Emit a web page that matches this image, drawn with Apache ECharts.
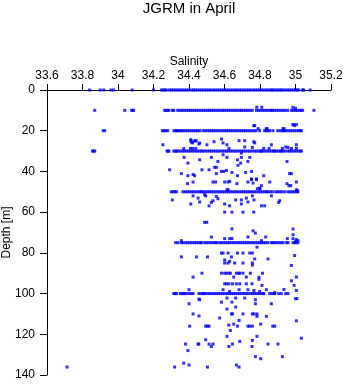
<!DOCTYPE html>
<html>
<head>
<meta charset="utf-8">
<script src="https://cdn.jsdelivr.net/npm/echarts@6/dist/echarts.min.js"></script>
<style>html,body{margin:0;padding:0;background:#fff;}#c{width:346px;height:384px;}</style>
</head>
<body>
<div id="c"></div>
<script>
// Dense sampling rows: salinity values observed at a given depth
const row0Depth = 0;
const row0 = [33.84,33.90,33.92,33.96,33.975,34.08,34.20,34.245,34.255,34.265,34.272,
  34.29,34.302,34.314,34.326,34.338,34.35,34.362,34.374,34.386,34.398,34.415,34.425,
  34.435,34.447,34.46,34.472,34.485,34.497,34.51,34.522,34.535,34.547,34.56,34.572,34.585,34.597,
  34.61,34.622,34.635,34.647,34.66,34.672,34.685,34.697,34.71,34.722,34.735,34.747,34.76,34.772,
  34.785,34.797,34.81,34.822,34.835,34.847,34.86,34.868,34.877,34.889,34.9,34.912,34.92,
  34.93,34.942,34.955,34.967,34.978,34.99,35.0,35.012,35.018,35.04,35.046,35.082];

const row10Depth = 10;
const row10 = [33.869,34.038,34.077,34.083,34.088,34.263,34.27,34.28,34.287,34.306,34.314,
  34.336,34.348,34.36,34.372,34.384,34.396,34.408,34.42,34.432,34.444,34.456,34.468,34.48,34.492,
  34.504,34.516,34.528,34.54,34.552,34.564,34.576,34.588,34.6,34.612,34.624,34.636,34.648,34.66,
  34.672,34.684,34.696,34.708,34.72,34.732,34.744,34.756,34.78,34.792,34.804,34.816,34.828,34.84,
  34.852,34.864,34.87,34.882,34.894,34.906,34.918,34.93,34.942,34.956,34.977,34.988,35.0,35.01,
  35.023,35.032,35.04,35.104];

const row20Depth = 20;
const row20 = [33.916,33.925,34.25,34.26,34.27,34.28,34.315,34.325,34.33,34.338,34.347,34.357,
  34.366,34.378,34.39,34.402,34.414,34.426,34.438,34.45,34.46,34.479,34.491,34.503,34.515,34.527,
  34.539,34.551,34.563,34.575,34.587,34.599,34.611,34.623,34.635,34.647,34.659,34.671,34.683,
  34.695,34.707,34.719,34.731,34.743,34.755,34.767,34.778,34.798,34.826,34.836,34.846,34.855,
  34.873,34.9,34.915,34.926,34.936,34.945,34.958,34.97,34.982,34.994,35.006,35.018,35.026,35.033];

const row30Depth = 30;
const row30 = [33.856,33.863,33.869,34.276,34.282,34.287,34.314,34.322,34.33,
  34.338,34.35,34.362,34.374,34.386,34.398,34.41,34.422,34.434,34.446,34.458,34.47,
  34.479,34.491,34.503,34.515,34.527,34.539,34.551,34.563,34.575,34.587,34.599,34.611,34.623,
  34.635,34.647,34.659,34.671,34.683,34.695,34.707,34.719,34.731,34.743,34.755,34.767,34.779,
  34.791,34.803,34.808,34.817,34.829,34.841,34.853,34.865,34.877,34.883,34.892,34.904,34.916,
  34.92,34.93,34.942,34.957,34.967,34.979,34.991,35.003,35.015,35.027,35.033];

const row50Depth = 50;
const row50 = [34.30,34.31,34.32,34.33,34.366,34.378,34.39,34.402,34.414,34.426,34.438,34.45,
  34.462,34.47,34.479,34.491,34.503,34.515,34.527,34.539,34.551,34.563,34.575,34.587,34.599,
  34.611,34.623,34.635,34.647,34.659,34.671,34.683,34.695,34.707,34.719,34.731,34.743,34.755,
  34.767,34.779,34.791,34.803,34.815,34.827,34.836,34.845,34.857,34.87,34.888,34.9,34.912,
  34.924,34.94,34.958,34.97,34.982,34.994,35.006,35.014];

const row75Depth = 75;
const row75 = [34.325,34.338,34.357,34.366,34.381,34.393,34.405,34.417,34.429,34.441,34.453,
  34.465,34.47,34.488,34.5,34.512,34.524,34.536,34.548,34.554,34.569,34.581,34.593,34.605,
  34.617,34.629,34.641,34.653,34.665,34.677,34.689,34.701,34.713,34.725,34.737,34.749,34.761,
  34.773,34.785,34.798,34.808,34.82,34.832,34.845,34.864,34.873,34.883,34.895,34.907,34.919,
  34.93,34.949,34.958,34.986,34.996,35.006,35.014];

const row100Depth = 100;
const row100 = [34.314,34.322,34.33,34.351,34.36,34.37,34.376,34.388,34.4,34.412,34.423,
  34.456,34.468,34.48,34.483,34.494,34.506,34.518,34.53,34.542,34.554,34.566,34.578,34.59,
  34.602,34.614,34.626,34.638,34.65,34.662,34.674,34.686,34.698,34.71,34.722,34.732,34.746,
  34.758,34.77,34.782,34.794,34.806,34.818,34.821,34.855,34.867,34.879,34.883,34.905,34.92,
  34.945,34.958];

// Scattered individual samples: salinity and depth
const scatterSal = [
  34.41,34.42,34.43,34.44,34.456,34.253,34.37,34.408,34.42,34.438,
  34.414,34.438,34.46,34.41,34.501,34.541,34.583,34.592,34.614,34.682,34.714,34.765,34.77,34.714,34.757,
  34.864,34.945,35.005,35.005,34.625,34.821,34.851,34.926,34.958,34.977,
  34.765,34.77,34.835,34.84,34.93,34.935,34.985,34.99,34.995,35.005,34.782,34.81,34.79,34.985,35.0,
  34.372,34.46,34.526,34.563,34.592,34.614,34.673,34.695,34.695,34.732,34.742,34.394,34.676,34.691,
  34.952,34.545,34.554,34.291,34.357,34.394,34.423,34.432,34.473,34.513,34.554,34.583,34.595,34.611,
  34.642,34.673,34.719,34.752,34.821,34.977,34.752,34.78,
  34.391,34.423,34.535,34.55,34.601,34.62,34.629,34.67,34.732,34.752,34.761,34.78,34.808,34.798,
  34.855,34.952,34.973,35.005,34.963,34.967,
  34.615,34.62,34.785,34.8,35.005,35.01,
  34.423,34.451,34.306,34.488,34.554,34.563,34.494,34.535,34.526,34.46,34.41,34.513,34.601,34.629,
  34.663,34.695,34.695,34.732,34.723,34.757,34.766,34.808,34.826,34.864,34.911,34.905,
  34.601,34.642,34.704,34.765,
  34.488,34.5,34.642,34.761,34.774,34.986,34.986,34.526,34.601,34.629,34.642,34.732,34.832,34.808,
  34.954,34.986,35.005,35.014,35.0,34.357,
  34.783,34.583,34.592,34.62,34.673,34.704,34.742,34.757,34.995,34.357,34.442,34.504,34.639,
  34.601,34.601,34.629,34.62,34.657,34.704,34.77,34.757,34.757,34.845,34.977,
  34.423,34.473,34.583,34.601,34.611,34.625,34.633,34.667,34.68,34.686,34.704,34.746,34.814,
  34.652,34.723,34.794,34.794,35.005,34.977,34.992,34.601,34.611,34.625,34.645,34.667,34.686,
  34.723,34.755,34.811,34.4,34.592,34.629,34.682,34.732,34.766,34.798,34.836,34.883,34.935,35.005,
  35.0,35.008,
  34.456,34.4,34.423,34.456,34.404,34.38,34.451,34.394,34.37,34.40,34.319,33.713,
  34.46,34.583,34.614,34.642,34.663,34.714,34.774,34.774,34.864,34.614,34.663,34.639,34.645,
  34.704,34.757,34.766,34.783,34.783,34.836,35.005,34.573,34.682,34.652,34.624,34.494,34.504,
  34.513,34.673,34.732,34.742,34.757,34.804,34.883,34.872,34.633,34.614,34.783,34.494,34.686,
  34.757,35.033,34.455,34.513,34.535,34.526,34.645,34.845,34.901,34.625,34.755,34.774,34.804,
  34.926,34.504,34.667,34.682];
const scatterDepth = [
  25,26,25,25,26.5,26.9,28.8,28.7,28.7,28.7,
  25.6,24.9,26,24.4,26.9,25.4,24.1,26,26.9,24.9,24.9,25.4,26,28,28.2,
  26.9,28,26.9,28.7,28.7,28.7,28.7,28.7,28.2,28.7,
  17.5,17.5,19,19,19,19,17,17,17.5,17,8.5,8.5,19,8.5,9,
  33.1,34.3,33.1,35.1,31.8,33.1,34.3,31,33.1,35.1,33.1,35.9,37,35.9,
  35.1,38,38,39.2,41.1,42.1,41.5,42.1,39.2,39.2,41.1,40,40,39.5,
  40.5,42.1,40.5,40,42.1,41.1,43.7,43.7,
  46,45.2,45.2,45.2,45.2,45.2,44.9,46,45.2,44,45.7,44,47,48.2,
  45.2,46,47,45.2,47,41,
  49,49,48.5,48.5,49,49.4,
  52,53.1,54,51.4,52.3,53.4,52,54.4,55.2,55,56,56.9,56,56.9,
  54,54,56,55,53.1,52,54,56.9,56.9,52,54.4,55.2,
  60,60,60,60,
  65,65,68.2,69.2,70.3,68.3,71.1,72.2,73,73,73,72.2,72.2,74,
  73,73,73.5,74,74.5,74,
  77.2,80.1,80.1,80.1,80.1,80.1,80.1,80.1,81.3,82,82,82,82,
  83.5,85,84.2,85,85,85,83,85,86,83,86.2,
  91.9,90,90,90,90,90,90,90,90,90,90,90,90,
  91.9,91.9,92,93,91.9,93.7,96,95.2,95.2,95.2,95.2,95.2,95.2,
  95.2,95.2,96,98.1,98.1,99,98.1,98.1,98.5,99,98.1,99.5,98,98.5,
  102.5,102.5,
  102.7,105,110,111,116,124.8,124.8,128,134.2,135.1,136.1,136.1,
  103,104.2,102.2,104.2,102.2,102.2,103,105,105,107.6,106.6,110,110,
  110,110,110,110,111.2,111.2,113.4,112,113.2,115,115.5,116,116,
  116,116,116,116,116,115,116,116,118.1,121,121,122.7,123.5,
  123,121.9,124.8,124.8,124.8,126,124.8,124.8,124.8,126,126,131,132,
  131,136.1,135.1,136.1];

// Axis ticks
const xMin = 33.6, xMax = 35.2, xStep = 0.2;
const yMin = 0, yMax = 140, yStep = 20;

function rowPoints(vals, d) { return vals.map(v => [v, d]); }
const data = []
  .concat(rowPoints(row0, row0Depth))
  .concat(rowPoints(row10, row10Depth))
  .concat(rowPoints(row20, row20Depth))
  .concat(rowPoints(row30, row30Depth))
  .concat(rowPoints(row50, row50Depth))
  .concat(rowPoints(row75, row75Depth))
  .concat(rowPoints(row100, row100Depth))
  .concat(scatterSal.map((s, i) => [s, scatterDepth[i]]));

const font = 'Liberation Sans, Arial, sans-serif';
const chart = echarts.init(document.getElementById('c'), null, {renderer: 'canvas'});
chart.setOption({
  animation: false,
  backgroundColor: '#ffffff',
  title: {
    text: 'JGRM in April',
    left: 189, top: 1, textAlign: 'center', padding: 0,
    textStyle: {fontFamily: font, fontSize: 15, fontWeight: 'normal', color: '#000'}
  },
  grid: {left: 47, top: 90, width: 284, height: 285, containLabel: false, outerBoundsMode: 'none'},
  xAxis: {
    type: 'value', position: 'top', min: xMin, max: xMax, interval: xStep,
    name: 'Salinity', nameLocation: 'middle', nameGap: 22, nameMoveOverlap: false,
    nameTextStyle: {fontFamily: font, fontSize: 12, color: '#000'},
    axisLine: {show: true, lineStyle: {color: '#000', width: 1}},
    axisTick: {show: true, length: 6, lineStyle: {color: '#000'}},
    axisLabel: {fontFamily: font, fontSize: 12, color: '#000', margin: 8,
      formatter: v => String(Math.round(v * 10) / 10)},
    splitLine: {show: false}
  },
  yAxis: {
    type: 'value', inverse: true, min: yMin, max: yMax, interval: yStep,
    name: 'Depth [m]', nameLocation: 'middle', nameGap: 34, nameMoveOverlap: false,
    nameTextStyle: {fontFamily: font, fontSize: 12, color: '#000'},
    axisLine: {show: true, onZero: false, lineStyle: {color: '#000', width: 1}},
    axisTick: {show: true, length: 7, lineStyle: {color: '#000'}},
    axisLabel: {fontFamily: font, fontSize: 12, color: '#000', margin: 12},
    splitLine: {show: false}
  },
  series: [{
    type: 'scatter', data: data, symbol: 'rect', symbolSize: 3,
    itemStyle: {color: '#0000ff'}, silent: true
  }]
});
</script>
</body>
</html>
